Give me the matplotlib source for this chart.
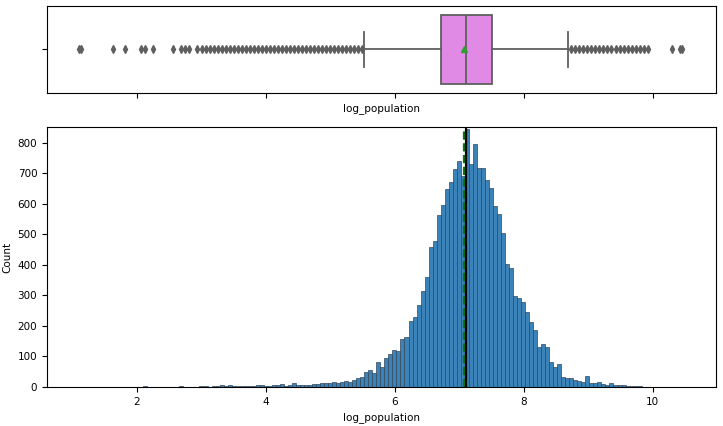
import numpy as np
import matplotlib
matplotlib.use("Agg")
import matplotlib.pyplot as plt

plt.rcParams['font.size'] = 7.5

x_min, x_max = 1.1, 10.45
left_counts = [1,0,0,0,0,0,0,0,1,0,0,1,0,0,0,1,
               2,0,1,0,0,0,0,1,0,2,1,1,0,1,3,2,
               1,2,3,6,2,5,3,4,2,3,3,4,7,8,4,2,
               5,7,9,4,7,12,8,6,7,8,10,9,13,12,14,15,
               12,18,20,15,24,28]
mid_counts = [34,50,56,45,81,67,94,107,121,118,156,165,216,228,268,316,362,458,479,564,
              597,649,671,715,741,692,845,730,796,717,717,679,651,594,566,504,402,389,298,293,
              280,245,212,187,132,141,132,81,67,74,34,28,28,23]
right_counts = [20,18,35,14,12,15,10,8,12,6,5,8,4,3,2,4,1,1,0,0,0,0,0,1,0,1]
counts = np.array(left_counts + mid_counts + right_counts)
edges = np.linspace(x_min, x_max, len(counts) + 1)

q1, median, q3, mean = 6.71, 7.10, 7.50, 7.07
whislo, whishi = 5.52, 8.68

centers = (edges[:-1] + edges[1:]) / 2
fliers = [c for c, n in zip(centers, counts) if n > 0 and (c < whislo or c > whishi)]
fliers = [x_min] + fliers + [x_max]

fig = plt.figure(figsize=(7.23, 4.26), dpi=100)
ax_box = fig.add_axes([47/723, 1-93/426, 669/723, 87/426])
ax_hist = fig.add_axes([47/723, 1-387/426, 669/723, 260/426], sharex=ax_box)

stats = [dict(med=median, q1=q1, q3=q3, whislo=whislo, whishi=whishi, mean=mean, fliers=fliers)]
gray = '#5f5f5f'
ax_box.bxp(stats, vert=False, showmeans=True, patch_artist=True, widths=0.8,
           boxprops=dict(facecolor='#e08ae6', edgecolor=gray, linewidth=1.3),
           medianprops=dict(color=gray, linewidth=1.3),
           whiskerprops=dict(color=gray, linewidth=1.3),
           capprops=dict(color=gray, linewidth=1.3),
           meanprops=dict(marker='^', markerfacecolor='#2ca02c', markeredgecolor='#2ca02c', markersize=5),
           flierprops=dict(marker='d', markerfacecolor=gray, markeredgecolor=gray, markersize=4))
ax_box.set_yticks([1])
ax_box.set_yticklabels([''])
ax_box.set_ylim(0.5, 1.5)
ax_box.set_xlabel('log_population')
plt.setp(ax_box.get_xticklabels(), visible=False)

ax_hist.bar(edges[:-1], counts, width=np.diff(edges), align='edge',
            color='#3b82b8', edgecolor='#33475b', linewidth=0.5)
ax_hist.axvline(mean, color='green', linestyle='--', linewidth=1.6)
ax_hist.axvline(median, color='black', linestyle='-', linewidth=1.6)
ax_hist.set_xlim(0.605, 10.98)
ax_hist.set_ylim(0, 852)
ax_hist.set_xticks([2, 4, 6, 8, 10])
ax_hist.set_yticks(range(0, 801, 100))
ax_hist.set_xlabel('log_population')
ax_hist.set_ylabel('Count')

fig.savefig('out.png', dpi=100)
